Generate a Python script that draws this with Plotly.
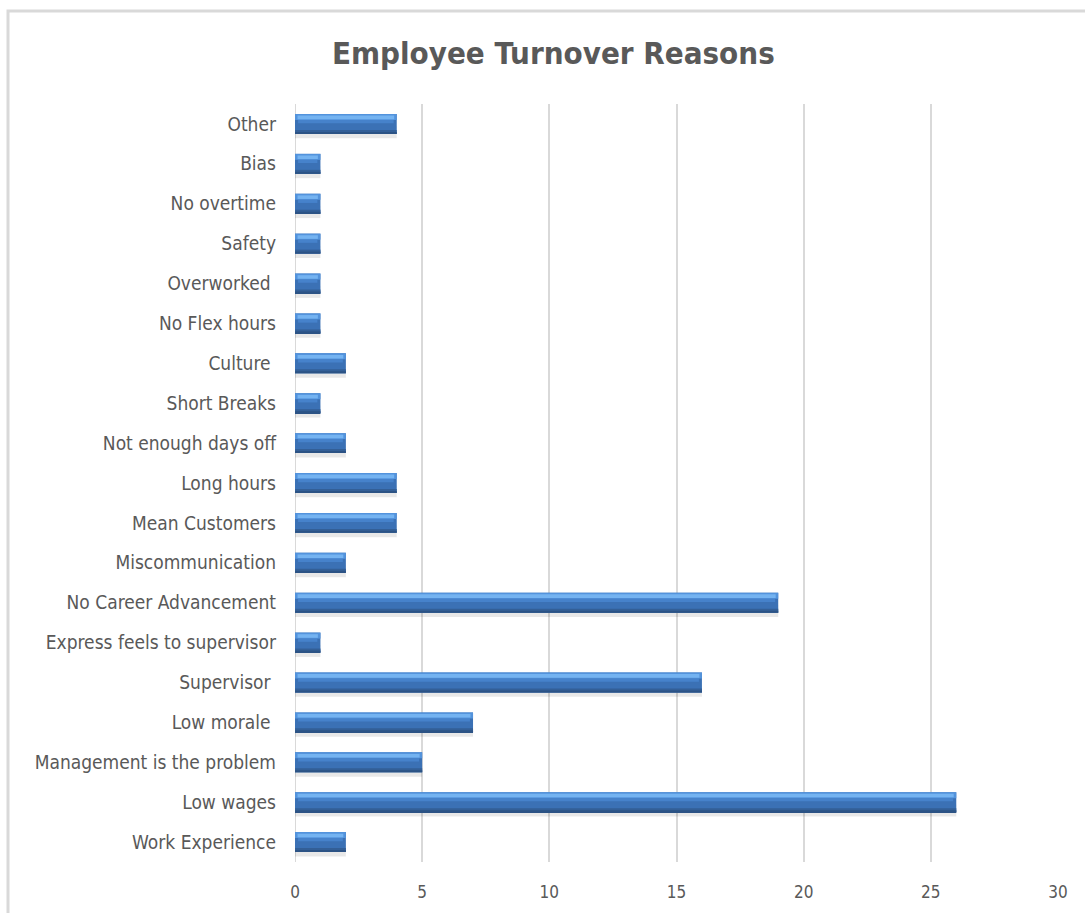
import plotly.graph_objects as go

# Turnover reasons, listed bottom to top
reasons = [
    "Work Experience", "Low wages", "Management is the problem", "Low morale ",
    "Supervisor ", "Express feels to supervisor", "No Career Advancement",
    "Miscommunication", "Mean Customers", "Long hours", "Not enough days off",
    "Short Breaks", "Culture ", "No Flex hours", "Overworked ", "Safety",
    "No overtime", "Bias", "Other",
]
counts = [2, 26, 5, 7, 16, 1, 19, 2, 4, 4, 2, 1, 2, 1, 1, 1, 1, 1, 4]
x_ticks = [0, 5, 10, 15, 20, 25, 30]

FONT = "Liberation Sans Narrow, DejaVu Sans Condensed, Roboto, sans-serif"
GREY_TEXT = "#595959"
GRID = "#d9d9d9"

fig = go.Figure()

# Bevelled bar look built from stacked bands of the same bars
layers = [
    # (colour, offset, width, end inset)
    ("rgba(0,0,0,0.09)", -0.36, 0.30, 0.0),    # soft drop shadow
    ("#3b71b5", -0.25, 0.50, 0.0),              # bar body
    ("#335f97", -0.25, 0.10, 0.0),              # shaded lower part
    ("#2c5385", -0.25, 0.05, 0.0),              # dark lower edge
    ("#4682cb", 0.02, 0.08, 0.12),              # bevel transition
    ("#5393dc", 0.10, 0.15, 0.0),               # upper bevel
    ("#74b3f1", 0.12, 0.09, 0.10),              # bright highlight band
]
for colour, off, w, inset in layers:
    fig.add_trace(go.Bar(
        y=reasons,
        x=[max(v - 2 * inset, 0) for v in counts],
        base=[inset] * len(counts),
        orientation="h",
        width=[w] * len(counts),
        offset=off,
        marker=dict(color=colour, line=dict(width=0)),
        hoverinfo="skip" if (inset or colour.startswith("rgba")) else None,
        showlegend=False,
    ))

fig.update_layout(
    width=1085, height=913,
    margin=dict(l=295, r=27, t=104, b=51),
    paper_bgcolor="white",
    plot_bgcolor="white",
    barmode="overlay",
    title=dict(
        text="<b>Employee Turnover Reasons</b>",
        x=0.51, xanchor="center",
        y=1 - 53 / 913, yanchor="middle",
        font=dict(family=FONT, size=31, color=GREY_TEXT),
    ),
    xaxis=dict(
        range=[0, 30],
        tickvals=x_ticks,
        showgrid=True, gridcolor=GRID, gridwidth=2,
        zeroline=True, zerolinecolor=GRID, zerolinewidth=1,
        showline=False, ticks="",
        tickfont=dict(family=FONT, size=17, color=GREY_TEXT),
        ticklabelstandoff=18,
        fixedrange=True,
    ),
    yaxis=dict(
        type="category",
        categoryorder="array", categoryarray=reasons,
        range=[-0.5, len(reasons) - 0.5],
        showgrid=False, zeroline=False, showline=False, ticks="",
        tickfont=dict(family=FONT, size=19, color=GREY_TEXT),
        ticklabelstandoff=18,
        fixedrange=True,
    ),
    shapes=[dict(
        type="rect", xref="paper", yref="paper",
        x0=-295 / 763 + 8 / 763, x1=1.2,
        y0=-0.2, y1=1 + (104 - 11) / 758,
        line=dict(color=GRID, width=3),
        fillcolor="rgba(0,0,0,0)", layer="below",
    )],
)

fig.write_html("out.html")
